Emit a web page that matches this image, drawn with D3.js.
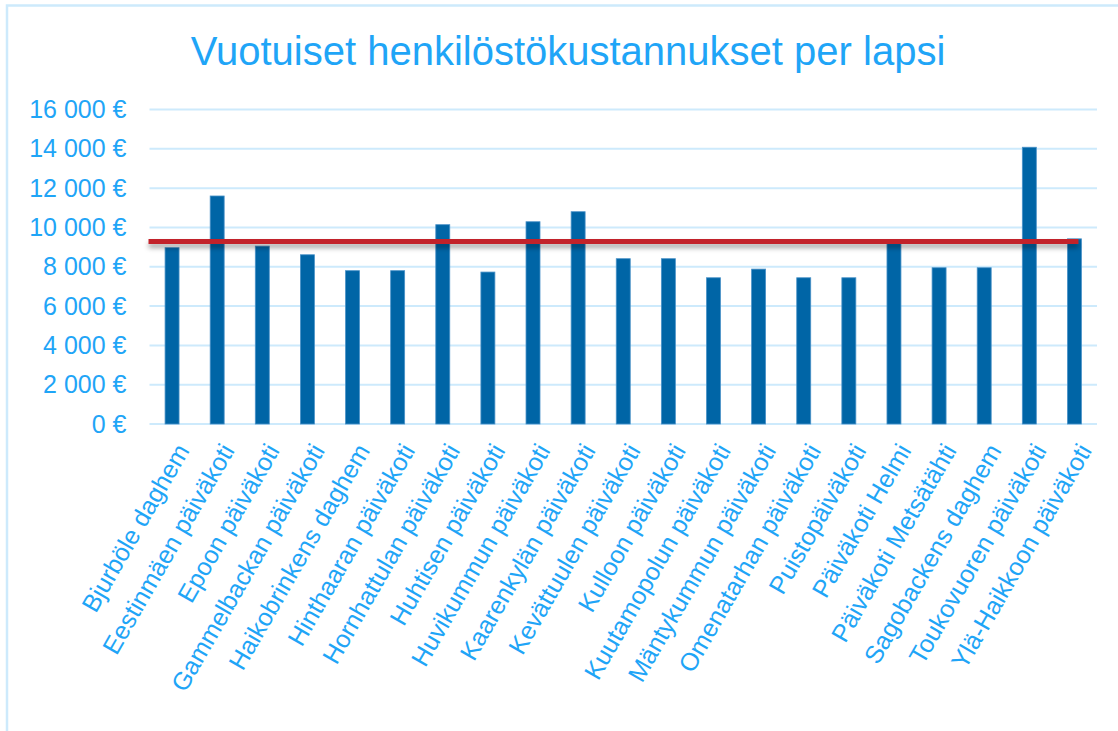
<!DOCTYPE html>
<html>
<head>
<meta charset="utf-8">
<script src="https://cdn.jsdelivr.net/npm/d3@7"></script>
<style>
  html, body { margin: 0; padding: 0; background: #fff; }
  svg { display: block; font-family: "Liberation Sans", Arial, sans-serif; }
</style>
</head>
<body>
<svg id="chart" width="1118" height="731"></svg>
<script>
const categories = ["Bjurböle daghem", "Eestinmäen päiväkoti", "Epoon päiväkoti", "Gammelbackan päiväkoti",
  "Haikobrinkens daghem", "Hinthaaran päiväkoti", "Hornhattulan päiväkoti", "Huhtisen päiväkoti",
  "Huvikummun päiväkoti", "Kaarenkylän päiväkoti", "Kevättuulen päiväkoti", "Kulloon päiväkoti",
  "Kuutamopolun päiväkoti", "Mäntykummun päiväkoti", "Omenatarhan päiväkoti", "Puistopäiväkoti",
  "Päiväkoti Helmi", "Päiväkoti Metsätähti", "Sagobackens daghem", "Toukovuoren päiväkoti",
  "Ylä-Haikkoon päiväkoti"];
const costs = [8970, 11600, 9050, 8610, 7800, 7800, 10140, 7730, 10290, 10800, 8410,
  8410, 7440, 7880, 7440, 7440, 9250, 7950, 7950, 14080, 9420];
const reference = 9290;
const yTicks = [0, 2000, 4000, 6000, 8000, 10000, 12000, 14000, 16000];
const title = "Vuotuiset henkilöstökustannukset per lapsi";

const textColor = "#1fa5f7",
  barColor = "#0065a6",
  gridColor = "#cdeafc",
  lineColor = "#c2202a";

const svg = d3.select("#chart");
const plotLeft = 149.5, plotRight = 1097, plotTop = 109.5, plotBottom = 424;

// chart frame (runs past the window on the right and bottom)
svg.append("rect")
  .attr("x", 7).attr("y", 5.5)
  .attr("width", 1140).attr("height", 760)
  .attr("fill", "none")
  .attr("stroke", gridColor)
  .attr("stroke-width", 2.5);

const x = d3.scaleBand()
  .domain(categories)
  .range([plotLeft, plotRight])
  .paddingInner(0.69)
  .paddingOuter(0.345);

const y = d3.scaleLinear()
  .domain([0, 16000])
  .range([plotBottom, plotTop]);

const fmt = v => d3.format(",")(v).replace(/,/g, " ") + " €";

// horizontal line has no height, so the filter region is given in user space
svg.append("defs").append("filter")
  .attr("id", "shadow")
  .attr("filterUnits", "userSpaceOnUse")
  .attr("x", 0).attr("y", y(reference) - 20)
  .attr("width", 1118).attr("height", 50)
  .append("feDropShadow")
  .attr("dx", 0).attr("dy", 4)
  .attr("stdDeviation", 2.5)
  .attr("flood-color", "#000")
  .attr("flood-opacity", 0.35);

// gridlines
svg.append("g")
  .selectAll("line")
  .data(yTicks)
  .enter()
  .append("line")
  .attr("x1", plotLeft).attr("x2", plotRight)
  .attr("y1", d => y(d)).attr("y2", d => y(d))
  .attr("stroke", gridColor)
  .attr("stroke-width", 2);

// y axis labels
const yAxis = svg.append("g")
  .attr("transform", `translate(${plotLeft},0)`)
  .call(d3.axisLeft(y).tickValues(yTicks).tickFormat(fmt).tickSize(0).tickPadding(23));
yAxis.select(".domain").remove();
yAxis.selectAll("text")
  .attr("fill", textColor)
  .style("font-size", "25px")
  .style("font-family", "'Liberation Sans', Arial, sans-serif");

// bars
svg.append("g")
  .selectAll("rect")
  .data(costs)
  .enter()
  .append("rect")
  .attr("x", (d, i) => x(categories[i]))
  .attr("y", d => y(d))
  .attr("width", x.bandwidth())
  .attr("height", d => y(0) - y(d))
  .attr("fill", barColor)
  .attr("stroke", "#4a92c8")
  .attr("stroke-width", 0.8);

// reference line
const lastCenter = x(categories[categories.length - 1]) + x.bandwidth() / 2;
svg.append("line")
  .attr("x1", plotLeft - 1)
  .attr("x2", lastCenter + 4)
  .attr("y1", y(reference)).attr("y2", y(reference))
  .attr("stroke", lineColor)
  .attr("stroke-width", 5)
  .attr("filter", "url(#shadow)");

// x axis labels
svg.append("g")
  .selectAll("text")
  .data(categories)
  .enter()
  .append("text")
  .text(d => d)
  .attr("transform", d => `translate(${x(d) + x.bandwidth() / 2 + 10.5},446) rotate(-60)`)
  .attr("dy", "0.35em")
  .attr("text-anchor", "end")
  .attr("fill", textColor)
  .style("font-size", "25px");

// title
svg.append("text")
  .text(title)
  .attr("x", 568)
  .attr("y", 65)
  .attr("text-anchor", "middle")
  .attr("fill", textColor)
  .style("font-size", "40px");
</script>
</body>
</html>
